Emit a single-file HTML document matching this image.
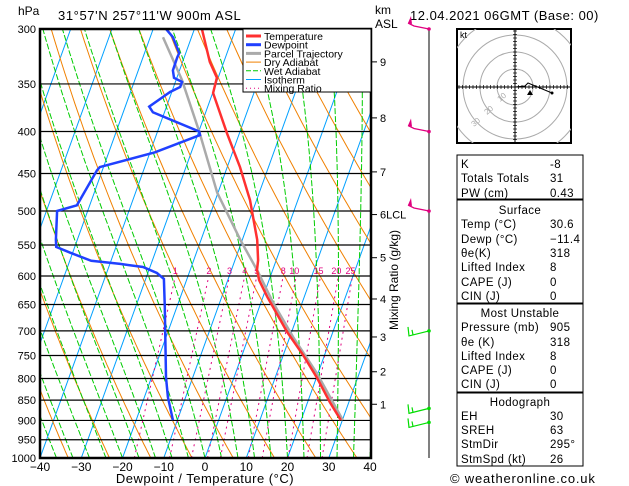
<!DOCTYPE html>
<html><head><meta charset="utf-8"><style>
body{margin:0;background:#fff;}
svg{display:block;font-family:"Liberation Sans",sans-serif;}
</style></head><body>
<svg id="chart" width="629" height="486" viewBox="0 0 629 486" xmlns="http://www.w3.org/2000/svg">
<defs><clipPath id="plotclip"><rect x="40" y="29" width="331" height="429"/></clipPath>
<clipPath id="hodoclip"><rect x="457" y="29" width="114" height="114"/></clipPath></defs>
<rect width="629" height="486" fill="#fff"/>
<g id="bg" clip-path="url(#plotclip)"></g>
<g id="isobars"></g>
<g id="profiles" clip-path="url(#plotclip)"></g>
<rect x="40" y="29" width="331" height="429" fill="none" stroke="#000" stroke-width="2.5"/>
<g id="axes"></g>
<text x="18" y="15" font-size="12">hPa</text>
<text x="58" y="20" font-size="13" letter-spacing="0.6">31°57'N  257°11'W  900m  ASL</text>
<text x="410" y="20" font-size="13" letter-spacing="0.5">12.04.2021  06GMT  (Base: 00)</text>
<text x="375" y="14" font-size="12">km</text>
<text x="375" y="28" font-size="12">ASL</text>
<text x="205" y="483" font-size="13" text-anchor="middle" letter-spacing="0.5">Dewpoint / Temperature (°C)</text>
<text transform="translate(398,280) rotate(-90)" font-size="12" text-anchor="middle">Mixing Ratio (g/kg)</text>
<g id="legend">
<rect x="243" y="29" width="128" height="63" fill="#fff" stroke="#000" stroke-width="1"/>
</g>
<g id="wind"></g>
<g id="hodo"></g>
<g id="table"></g>
<text x="450" y="483" font-size="13" letter-spacing="0.8">© weatheronline.co.uk</text>
</svg>
<script>
// ---- data ----
const tempP = [300,329,344,359,402,442,485,542,574,590,607,636,702,749,799,855,899];
const tempT = [-38.2,-33.4,-30.3,-29.9,-23,-16.9,-11.6,-6.4,-4.4,-3.8,-2.4,1,8.9,14.8,20.2,25.4,29.6];
const dewP = [300,307,321,325,337,344,348,353,358,373,379,400,404,424,442,446,492,500,542,553,562,575,580,585,595,605,655,797,843,899];
const dewT = [-46.9,-44.5,-41.6,-41.7,-41.6,-40.7,-38.4,-38.4,-40.4,-44.2,-42.8,-29.9,-29.4,-38.8,-50.9,-51.3,-53.1,-57.4,-55.2,-54.5,-50.6,-44.8,-37.5,-31.7,-27.8,-25.6,-22.9,-16.5,-14.3,-11.1];
const parcelP = [307,346,400,475,542,593,647,712,788,899];
const parcelT = [-46.9,-38.6,-29.9,-20.2,-10.5,-3.4,3,10.8,19.7,30.1];
const isobarLevels = [300,350,400,450,500,550,600,650,700,750,800,850,900,950,1000];
const xTicks = [-40,-30,-20,-10,0,10,20,30,40];
const mixRatios = [1,2,3,4,5,8,10,15,20,25];
const kmLabels = ['9','8','7','6','5','4','3','2','1'];
const kmPress = [329,385,448,505,570,640,712,785,860];
const windP = [300,400,500,700,870,905];
const windColor = ['#e0007f','#e0007f','#e0007f','#00dd00','#00dd00','#00dd00'];
const tableRows = [
 ['K','-8'],['Totals Totals','31'],['PW (cm)','0.43'],
 ['@Surface',''],['Temp (°C)','30.6'],['Dewp (°C)','−11.4'],['θe(K)','318'],['Lifted Index','8'],['CAPE (J)','0'],['CIN (J)','0'],
 ['@Most Unstable',''],['Pressure (mb)','905'],['θe (K)','318'],['Lifted Index','8'],['CAPE (J)','0'],['CIN (J)','0'],
 ['@Hodograph',''],['EH','30'],['SREH','63'],['StmDir','295°'],['StmSpd (kt)','26']];
// ---- axes ----
const NS='http://www.w3.org/2000/svg';
const yBot=458, yTop=29, SK=0.36;
function yP(p){return yBot-(yBot-yTop)*Math.log(1000/p)/Math.log(1000/300);}
function xT(T,p){return 40+4.125*(T+40)+SK*(yBot-yP(p));}
function mk(tag,attrs,parent){const e=document.createElementNS(NS,tag);for(const k in attrs)e.setAttribute(k,attrs[k]);parent.appendChild(e);return e;}
function pathFrom(ps,ts){let d='';for(let i=0;i<ps.length;i++){d+=(i?'L':'M')+xT(ts[i],ps[i]).toFixed(1)+','+yP(ps[i]).toFixed(1);}return d;}
const bg=document.getElementById('bg');
for(let T=-110;T<=40;T+=10){
 const l=mk('line',{x1:xT(T,1000),y1:yP(1000),x2:xT(T,300),y2:yP(300),stroke:'#00a0ff','stroke-width':1},bg);
 
 
}
for(let th=240;th<=480;th+=10){
 let d='';for(let p=1000;p>=300;p-=10){const T=th*Math.pow(p/1000,0.286)-273.15;d+=(p===1000?'M':'L')+xT(T,p).toFixed(1)+','+yP(p).toFixed(1);}
 const e=mk('path',{d:d,fill:'none',stroke:'#f08000','stroke-width':1},bg);
 
 
}
function es(Tc){return 6.112*Math.exp(17.67*Tc/(Tc+243.5));}
for(let t0=-36;t0<=44;t0+=4){
 let T=t0+273.15,d='';
 for(let p=1000;p>=300;p-=5){
  d+=(p===1000?'M':'L')+xT(T-273.15,p).toFixed(1)+','+yP(p).toFixed(1);
  const e=es(T-273.15),rs=0.622*e/(p-e);
  const dTdp=(287*T+2.5e6*rs)/(p*(1005+2.5e6*2.5e6*rs*0.622/(287*T*T)));
  T-=dTdp*5;
 }
 const e=mk('path',{d:d,fill:'none',stroke:'#00cc00','stroke-width':1,'stroke-dasharray':'6,2'},bg);
 
 
}
function tdFromW(w,p){const e=w*p/(622+w);const l=Math.log(e/6.112);return 243.5*l/(17.67-l);}
mixRatios.forEach(w=>{
 const e=mk('line',{x1:xT(tdFromW(w,1000),1000),y1:yP(1000),x2:xT(tdFromW(w,600),600),y2:yP(600),stroke:'#e0007f','stroke-width':1,'stroke-dasharray':'2,4'},bg);
 
 
 const t=mk('text',{x:xT(tdFromW(w,600),600)+(w>=10?-2:0),y:274,'font-size':9,fill:'#e0007f','text-anchor':'middle'},bg);
 t.textContent=w;
 
 
});
const iso=document.getElementById('isobars');
isobarLevels.forEach(p=>{
 const y=yP(p);
 const l=mk('line',{x1:40,x2:371,y1:y,y2:y,stroke:'#000','stroke-width':1.2},iso);
 
 
 const t=mk('text',{x:36,y:y+4,'font-size':11,'text-anchor':'end'},iso);
 t.textContent=p;
 
 
});
const ax=document.getElementById('axes');
xTicks.forEach(T=>{
 const t=mk('text',{x:xT(T,1000),y:471,'font-size':12,'text-anchor':'middle'},ax);
 t.textContent=(T<0?'−':'')+Math.abs(T);
 
 
});
kmLabels.forEach((k,i)=>{
 const y=yP(kmPress[i]);
 const l=mk('line',{x1:371,x2:377,y1:y,y2:y,stroke:'#000','stroke-width':1},ax);
 
 
 const t=mk('text',{x:380,y:y+4,'font-size':11},ax);
 t.textContent=k+(k==='6'?'LCL':'');
 
 
});
const pr=document.getElementById('profiles');
const pp=mk('path',{d:pathFrom(parcelP,parcelT),fill:'none',stroke:'#aaaaaa','stroke-width':2.5},pr);


const tp=mk('path',{d:pathFrom(tempP,tempT),fill:'none',stroke:'#ff3030','stroke-width':2.5},pr);


const dp=mk('path',{d:pathFrom(dewP,dewT),fill:'none',stroke:'#2040ff','stroke-width':2.5},pr);


const lg=document.getElementById('legend');
[['Temperature','#ff3030',3,''],['Dewpoint','#2040ff',3,''],['Parcel Trajectory','#aaaaaa',3,''],['Dry Adiabat','#f08000',1,''],['Wet Adiabat','#00cc00',1,'5,2'],['Isotherm','#00a0ff',1,''],['Mixing Ratio','#e0007f',1,'1,3']].forEach((r,i)=>{
 const y=36+i*8.7;
 const l=mk('line',{x1:246,x2:261,y1:y,y2:y,stroke:r[1],'stroke-width':r[2],'stroke-dasharray':r[3]},lg);
 
 
 const t=mk('text',{x:264,y:y+4,'font-size':10.5},lg);
 t.textContent=r[0];
 
 
});
const wd=document.getElementById('wind');
const st=mk('line',{x1:429,x2:429,y1:29,y2:458,stroke:'#000','stroke-width':1},wd);


windP.forEach((p,i)=>{
 const y=yP(p),c=windColor[i];
 const g=mk('g',{},wd);
 
 
 mk('circle',{cx:429,cy:y,r:1.8,fill:c},g);
 if(c!=='#00dd00'){
  mk('polyline',{points:`429,${y} 414,${y-3} 408,${y-6}`,fill:'none',stroke:c,'stroke-width':1.3},g);
  mk('polygon',{points:`408,${y-6} 411,${y-13} 412,${y-5}`,fill:c},g);
 } else {
  mk('polyline',{points:`429,${y} 409,${y+5} 408,${y-4}`,fill:'none',stroke:c,'stroke-width':1.2},g);
  mk('line',{x1:413,y1:y+4,x2:412,y2:y-1,stroke:c,'stroke-width':1.2},g);
 }
});
const hd=document.getElementById('hodo');
mk('rect',{x:457,y:29,width:114,height:114,fill:'#fff',stroke:'#000','stroke-width':2},hd);
const hc=mk('g',{'clip-path':'url(#hodoclip)'},hd);
[18,35,52,70].forEach(r=>{const c=mk('circle',{cx:515,cy:87,r:r,fill:'none',stroke:'#aaa','stroke-width':1},hc);
 
 });
mk('line',{x1:458,x2:570,y1:87,y2:87,stroke:'#000','stroke-width':1},hd);
mk('line',{x1:515,x2:515,y1:30,y2:142,stroke:'#000','stroke-width':1},hd);
for(let k=-56;k<=56;k+=3.5){mk('line',{x1:515+k,x2:515+k,y1:85,y2:89,stroke:'#000','stroke-width':0.7},hd);mk('line',{x1:513,x2:517,y1:87+k,y2:87+k,stroke:'#000','stroke-width':0.7},hd);}
mk('polyline',{points:'515,87 525,86 528,83 552,93',fill:'none',stroke:'#000','stroke-width':1},hd);
mk('circle',{cx:552,cy:93,r:1.5,fill:'#000'},hd);
mk('polygon',{points:'527,95 533,95 530,90',fill:'#000'},hd);
const kt=mk('text',{x:460,y:38,'font-size':9},hd);kt.textContent='kt';
[['10',500,102],['20',487,115],['30',474,127]].forEach(a=>{const t=mk('text',{x:a[1],y:a[2],'font-size':8,fill:'#aaa',transform:`rotate(-40 ${a[1]} ${a[2]})`},hd);t.textContent=a[0];});
const tb=document.getElementById('table');
[[155,199],[200,303],[304,392],[393,466]].forEach(b=>{const r=mk('rect',{x:457,y:b[0],width:126,height:b[1]-b[0],fill:'#fff',stroke:'#000','stroke-width':1},tb);
 
 });
const rowY=[168,182,197,214,228,243,257,271,286,300,317,331,346,360,374,388,406,420,434,448,463];
tableRows.forEach((r,i)=>{
 if(r[0][0]==='@'){const t=mk('text',{x:520,y:rowY[i],'font-size':11.5,'text-anchor':'middle','letter-spacing':0.4},tb);t.textContent=r[0].slice(1);
  
  return;}
 const a=mk('text',{x:461,y:rowY[i],'font-size':11.5,'letter-spacing':0.4},tb);a.textContent=r[0];
 
 
 const b=mk('text',{x:550,y:rowY[i],'font-size':11.5,'letter-spacing':0.4},tb);b.textContent=r[1];
 
 
});
</script>
</body></html>
